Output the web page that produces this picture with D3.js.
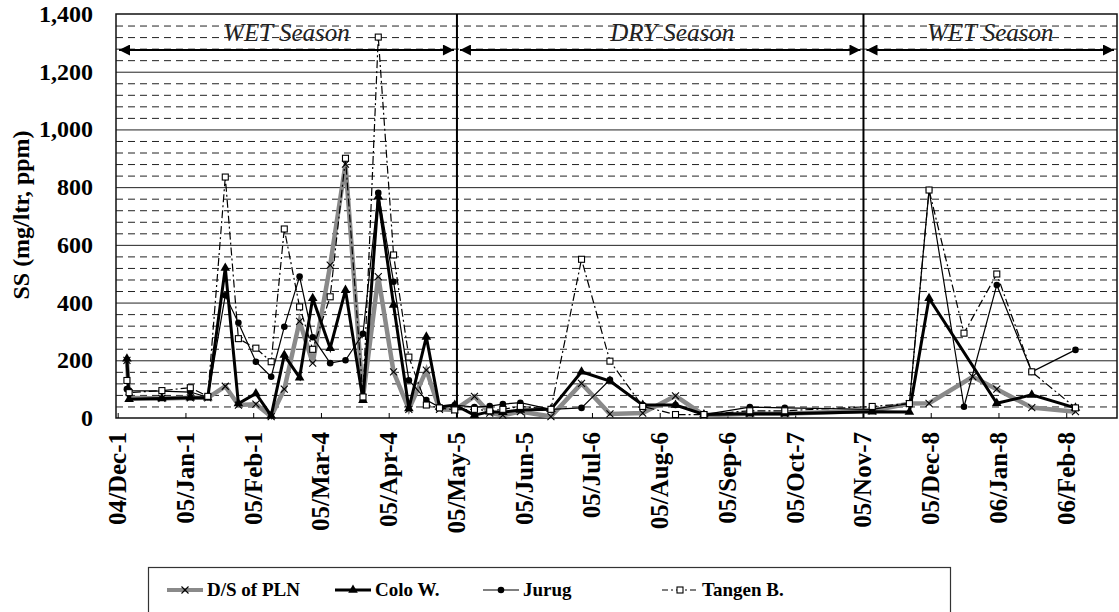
<!DOCTYPE html>
<html>
<head>
<meta charset="utf-8">
<script src="https://cdn.jsdelivr.net/npm/d3@7/dist/d3.min.js"></script>
<style>
  html, body { margin: 0; padding: 0; background: #fff; }
  svg { display: block; }
</style>
</head>
<body>
<svg id="chart" width="1119" height="612" font-family="'Liberation Serif', 'Times New Roman', 'DejaVu Serif', serif"></svg>
<script>
// Sampling dates (shared by all four stations)
const sampleDates = [
  "2004-12-05","2004-12-06","2004-12-21","2005-01-03","2005-01-11","2005-01-19",
  "2005-01-25","2005-02-02","2005-02-09","2005-02-15","2005-02-22","2005-02-28",
  "2005-03-08","2005-03-15","2005-03-23","2005-03-30","2005-04-06","2005-04-13",
  "2005-04-21","2005-04-27","2005-05-04","2005-05-13","2005-05-20","2005-05-26",
  "2005-06-03","2005-06-17","2005-07-01","2005-07-14","2005-07-29","2005-08-13",
  "2005-08-26","2005-09-16","2005-10-02","2005-11-11","2005-11-28","2005-12-07",
  "2005-12-23","2005-12-27","2006-01-07","2006-01-23","2006-02-12"
];

// Suspended solids, mg/ltr (null = not sampled on that date)
const dsPLN = [200,70,68,70,70,110,45,48,5,100,335,190,530,880,70,490,160,30,166,30,28,
  75,17,10,22,5,120,14,17,77,10,15,15,25,50,51,null,143,100,36,22];
const coloW = [205,65,68,70,70,520,50,85,8,218,140,415,242,443,62,767,392,33,281,38,45,
  10,22,20,28,30,160,128,45,45,12,15,15,22,21,415,null,null,51,80,35];
const jurug = [100,95,93,90,72,425,330,195,143,316,490,280,190,200,292,780,472,131,62,38,45,
  38,41,48,53,30,35,132,45,45,12,38,35,30,50,790,39,null,461,160,236];
const tangenB = [130,88,95,105,75,835,275,242,195,655,385,238,420,900,73,1320,565,211,45,35,28,
  30,25,30,40,30,550,197,40,12,12,25,25,40,50,790,294,null,499,160,35];

const seriesNames = ["D/S of PLN", "Colo W.", "Jurug", "Tangen B."];

// Axis ticks
const tickDates = ["2004-12-01","2005-01-01","2005-02-01","2005-03-04","2005-04-04",
  "2005-05-05","2005-06-05","2005-07-06","2005-08-06","2005-09-06","2005-10-07",
  "2005-11-07","2005-12-08","2006-01-08","2006-02-08"];
const tickLabels = ["04/Dec-1","05/Jan-1","05/Feb-1","05/Mar-4","05/Apr-4","05/May-5",
  "05/Jun-5","05/Jul-6","05/Aug-6","05/Sep-6","05/Oct-7","05/Nov-7","05/Dec-8",
  "06/Jan-8","06/Feb-8"];
const yTicks = [0,200,400,600,800,1000,1200,1400];

// Season bands
const seasonNames = ["WET Season","DRY Season","WET Season"];
const seasonBounds = ["2004-11-30","2005-05-05","2005-11-07","2006-03-03"];

const parse = d3.timeParse("%Y-%m-%d");
const svg = d3.select("#chart");
const W = 1119, H = 612;
const plot = {left: 116, right: 1117, top: 14, bottom: 418};

const x = d3.scaleTime()
  .domain([parse(seasonBounds[0]), parse(seasonBounds[3])])
  .range([plot.left, plot.right]);
const y = d3.scaleLinear().domain([0, 1400]).range([plot.bottom, plot.top]);

svg.append("rect").attr("width", W).attr("height", H).attr("fill", "#fff");

// Gridlines: minor every 40 (dashed), major every 200 (solid)
const minor = d3.range(40, 1400, 40).filter(v => v % 200 !== 0);
svg.append("g").selectAll("line").data(minor).join("line")
  .attr("x1", plot.left).attr("x2", plot.right)
  .attr("y1", d => y(d) + 0.5).attr("y2", d => y(d) + 0.5)
  .attr("stroke", "#222").attr("stroke-width", 1).attr("stroke-dasharray", "7,5");
svg.append("g").selectAll("line").data(yTicks.filter(v => v > 0 && v < 1400)).join("line")
  .attr("x1", plot.left).attr("x2", plot.right)
  .attr("y1", d => y(d) + 0.5).attr("y2", d => y(d) + 0.5)
  .attr("stroke", "#222").attr("stroke-width", 1);

// Plot frame
svg.append("rect")
  .attr("x", plot.left).attr("y", plot.top)
  .attr("width", plot.right - plot.left).attr("height", plot.bottom - plot.top)
  .attr("fill", "none").attr("stroke", "#111").attr("stroke-width", 1.5);

// Season boundaries
svg.append("g").selectAll("line").data(seasonBounds.slice(1, 3)).join("line")
  .attr("x1", d => x(parse(d))).attr("x2", d => x(parse(d)))
  .attr("y1", plot.top).attr("y2", plot.bottom)
  .attr("stroke", "#000").attr("stroke-width", 2);

// Season arrows and labels
const defs = svg.append("defs");
defs.append("marker").attr("id", "arrowEnd").attr("viewBox", "0 0 10 10")
  .attr("refX", 10).attr("refY", 5).attr("markerWidth", 7).attr("markerHeight", 5.5)
  .attr("orient", "auto").attr("markerUnits", "strokeWidth")
  .append("path").attr("d", "M0,0 L10,5 L0,10 Z").attr("fill", "#000");
defs.append("marker").attr("id", "arrowStart").attr("viewBox", "0 0 10 10")
  .attr("refX", 0).attr("refY", 5).attr("markerWidth", 7).attr("markerHeight", 5.5)
  .attr("orient", "auto").attr("markerUnits", "strokeWidth")
  .append("path").attr("d", "M10,0 L0,5 L10,10 Z").attr("fill", "#000");

const arrowY = 50;
seasonNames.forEach((name, i) => {
  const x0 = x(parse(seasonBounds[i])), x1 = x(parse(seasonBounds[i + 1]));
  svg.append("line")
    .attr("x1", x0 + 3).attr("x2", x1 - 3)
    .attr("y1", arrowY).attr("y2", arrowY)
    .attr("stroke", "#000").attr("stroke-width", 2)
    .attr("marker-start", "url(#arrowStart)").attr("marker-end", "url(#arrowEnd)");
  svg.append("text")
    .attr("x", (x0 + x1) / 2 + (i === 1 ? 12 : 0)).attr("y", 41)
    .attr("text-anchor", "middle").attr("font-style", "italic")
    .attr("font-size", 25).attr("fill", "#222")
    .text(name);
});

// Tick marks on the bottom edge
svg.append("g").selectAll("line").data(tickDates).join("line")
  .attr("x1", d => x(parse(d))).attr("x2", d => x(parse(d)))
  .attr("y1", plot.bottom).attr("y2", plot.bottom - 5)
  .attr("stroke", "#000");

// X tick labels (rotated)
svg.append("g").selectAll("text").data(tickLabels).join("text")
  .attr("transform", (d, i) => `translate(${x(parse(tickDates[i])) + 8},432) rotate(-90)`)
  .attr("text-anchor", "end")
  .attr("font-weight", "bold").attr("font-size", 25)
  .text(d => d);

// Y tick labels
svg.append("g").selectAll("text").data(yTicks).join("text")
  .attr("x", 93).attr("y", d => y(d) + 8)
  .attr("text-anchor", "end")
  .attr("font-weight", "bold").attr("font-size", 24)
  .text(d => d3.format(",")(d));

// Y axis title
svg.append("text")
  .attr("transform", "translate(29,215) rotate(-90)")
  .attr("text-anchor", "middle")
  .attr("font-weight", "bold").attr("font-size", 24)
  .text("SS (mg/ltr, ppm)");

// Series
const dates = sampleDates.map(parse);
const series = [
  {name: seriesNames[0], values: dsPLN, color: "#8a8a8a", width: 4.5, dash: null, marker: "cross"},
  {name: seriesNames[1], values: coloW, color: "#000", width: 3, dash: null, marker: "triangle"},
  {name: seriesNames[2], values: jurug, color: "#000", width: 1.2, dash: null, marker: "circle"},
  {name: seriesNames[3], values: tangenB, color: "#000", width: 1.2, dash: "8,3,2,3", marker: "square"}
];

const line = d3.line().x(d => x(d.date)).y(d => y(d.v));

function drawMarker(g, type, px, py) {
  if (type === "cross") {
    g.append("path").attr("d", `M${px-3.5},${py-3.5}L${px+3.5},${py+3.5}M${px-3.5},${py+3.5}L${px+3.5},${py-3.5}`)
      .attr("stroke", "#000").attr("stroke-width", 1.1).attr("fill", "none");
  } else if (type === "triangle") {
    g.append("path").attr("d", d3.symbol(d3.symbolTriangle, 40)()).attr("transform", `translate(${px},${py})`)
      .attr("fill", "#000");
  } else if (type === "circle") {
    g.append("circle").attr("cx", px).attr("cy", py).attr("r", 3.3).attr("fill", "#000");
  } else if (type === "square") {
    g.append("rect").attr("x", px - 3).attr("y", py - 3).attr("width", 6).attr("height", 6)
      .attr("fill", "#fff").attr("stroke", "#000").attr("stroke-width", 1.1);
  }
}

series.forEach(s => {
  const pts = dates.map((d, i) => ({date: d, v: s.values[i]})).filter(p => p.v !== null);
  const g = svg.append("g");
  g.append("path").datum(pts).attr("d", line)
    .attr("fill", "none").attr("stroke", s.color).attr("stroke-width", s.width)
    .attr("stroke-linejoin", "miter").attr("stroke-dasharray", s.dash);
  pts.forEach(p => drawMarker(g, s.marker, x(p.date), y(p.v)));
});

// Legend
const leg = svg.append("g");
leg.append("rect").attr("x", 148.5).attr("y", 567.5).attr("width", 802).attr("height", 50)
  .attr("fill", "#fff").attr("stroke", "#333").attr("stroke-width", 1.2);
const legX = [167, 335, 483, 662];
series.forEach((s, i) => {
  const lx = legX[i], ly = 590;
  leg.append("line").attr("x1", lx).attr("x2", lx + 36).attr("y1", ly).attr("y2", ly)
    .attr("stroke", s.color).attr("stroke-width", s.width === 4.5 ? 4 : s.width)
    .attr("stroke-dasharray", s.dash ? "6,3,2,3" : null);
  drawMarker(leg, s.marker, lx + 18, ly);
  leg.append("text").attr("x", lx + 40).attr("y", ly + 6)
    .attr("font-weight", "bold").attr("font-size", 19)
    .text(s.name);
});
</script>
</body>
</html>
